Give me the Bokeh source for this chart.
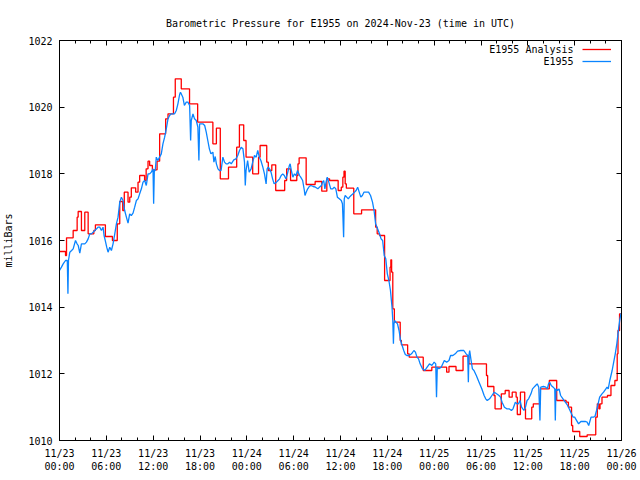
from bokeh.plotting import figure
from bokeh.models import Range1d, FixedTicker, LinearAxis, Legend, LegendItem, Label
from bokeh.embed import file_html
from bokeh.resources import INLINE

# ---- data (hours since 2024-11-23 00:00 UTC, pressure in mbar) ----
blue_hours = [0.0, 0.25, 0.47, 0.77, 1.0, 1.08, 1.15, 1.32, 1.55, 1.75, 2.05, 2.25, 2.4, 2.6, 2.81, 3.0, 3.24, 3.45,
              3.67, 3.88, 4.1, 4.31, 4.52, 4.75, 4.94, 5.15, 5.37, 5.58, 5.71, 5.88, 6.05, 6.22, 6.44, 6.65, 6.86,
              7.08, 7.29, 7.5, 7.72, 7.93, 8.14, 8.35, 8.57, 8.78, 8.99, 9.2, 9.42, 9.63, 9.85, 10.06, 10.27, 10.49,
              10.7, 10.91, 11.12, 11.34, 11.55, 11.76, 11.98, 12.06, 12.15, 12.27, 12.4, 12.6, 12.82, 13.04, 13.25,
              13.47, 13.68, 13.9, 14.1, 14.3, 14.5, 14.75, 14.96, 15.17, 15.39, 15.5, 15.8, 16.0, 16.24, 16.45,
              16.67, 16.8, 16.88, 17.1, 17.3, 17.52, 17.73, 17.86, 17.95, 18.15, 18.37, 18.6, 18.8, 19.0, 19.2,
              19.4, 19.65, 19.78, 19.95, 20.1, 20.3, 20.5, 20.7, 20.93, 21.14, 21.35, 21.57, 21.8, 22.0, 22.33,
              22.6, 22.84, 23.06, 23.27, 23.5, 23.7, 23.8, 23.9, 24.1, 24.3, 24.55, 24.8, 24.98, 25.2, 25.4, 25.6,
              25.8, 26.05, 26.26, 26.47, 26.6, 26.75, 26.9, 27.1, 27.3, 27.5, 27.8, 28.0, 28.2, 28.4, 28.6, 28.8,
              29.0, 29.2, 29.45, 29.55, 29.7, 29.9, 30.1, 30.3, 30.5, 30.75, 30.9, 31.15, 31.37, 31.45, 31.6, 31.8,
              32.0, 32.2, 32.5, 32.8, 33.1, 33.3, 33.55, 33.7, 33.85, 34.0, 34.15, 34.3, 34.5, 34.75, 35.0, 35.2,
              35.4, 35.6, 35.85, 36.1, 36.25, 36.32, 36.4, 36.48, 36.6, 36.8, 37.0, 37.15, 37.35, 37.6, 37.8, 38.0,
              38.2, 38.4, 38.6, 38.8, 39.0, 39.3, 39.6, 39.85, 40.1, 40.3, 40.5, 40.75, 41.0, 41.2, 41.4, 41.6,
              41.8, 42.0, 42.2, 42.4, 42.6, 42.7, 42.78, 42.85, 42.95, 43.1, 43.3, 43.5, 43.7, 43.9, 44.1, 44.3,
              44.5, 44.8, 45.1, 45.4, 45.6, 45.8, 46.0, 46.2, 46.5, 46.8, 47.1, 47.4, 47.7, 48.0, 48.2, 48.3, 48.4,
              48.6, 48.9, 49.3, 49.6, 49.9, 50.1, 50.4, 50.7, 51.0, 51.4, 51.8, 52.1, 52.3, 52.38, 52.45, 52.55,
              52.7, 52.9, 53.1, 53.4, 53.75, 54.1, 54.4, 54.6, 54.8, 55.1, 55.4, 55.7, 56.0, 56.3, 56.5, 56.7,
              57.0, 57.3, 57.6, 57.9, 58.1, 58.4, 58.6, 58.8, 59.0, 59.2, 59.5, 59.7, 59.9, 60.1, 60.4, 60.6, 60.8,
              61.0, 61.2, 61.4, 61.55, 61.65, 62.0, 62.3, 62.5, 62.65, 62.8, 63.0, 63.25, 63.45, 63.52, 63.6, 63.8,
              64.0, 64.2, 64.5, 64.8, 65.1, 65.4, 65.6, 65.8, 66.0, 66.2, 66.5, 66.8, 67.1, 67.4, 67.6, 67.8, 68.1,
              68.4, 68.6, 68.8, 69.0, 69.2, 69.5, 69.7, 70.0, 70.15, 70.3, 70.5, 70.65, 70.8, 71.0, 71.2, 71.4,
              71.55, 71.65, 71.8, 71.95]
blue_mbar = [1015.1, 1015.2, 1015.3, 1015.4, 1015.4, 1014.4, 1015.4, 1015.65, 1015.7, 1015.75, 1016.0, 1015.9,
             1015.85, 1015.62, 1015.9, 1015.9, 1015.9, 1015.95, 1016.05, 1016.2, 1016.2, 1016.25, 1016.3, 1016.35,
             1016.4, 1016.4, 1016.3, 1016.4, 1016.15, 1015.98, 1015.8, 1015.65, 1015.8, 1015.7, 1015.9, 1016.2,
             1016.5, 1016.7, 1017.15, 1017.3, 1017.2, 1016.9, 1016.7, 1016.52, 1016.8, 1016.75, 1016.82, 1017.0,
             1017.2, 1017.25, 1017.4, 1017.55, 1017.75, 1017.8, 1017.65, 1018.0, 1018.0, 1018.05, 1018.15, 1017.1,
             1018.1, 1018.1, 1018.5, 1018.4, 1018.5, 1018.6, 1018.9, 1019.1, 1019.35, 1019.65, 1019.75, 1019.8,
             1019.8, 1019.8, 1019.9, 1020.1, 1020.38, 1020.45, 1020.3, 1020.05, 1020.15, 1020.15, 1020.05, 1019.0,
             1019.6, 1019.8, 1019.65, 1019.6, 1019.4, 1018.4, 1019.5, 1019.5, 1019.5, 1019.45, 1019.25, 1019.0,
             1018.75, 1018.6, 1018.65, 1018.35, 1018.52, 1018.3, 1018.15, 1018.1, 1018.1, 1018.5, 1018.35, 1018.3,
             1018.3, 1018.35, 1018.3, 1018.42, 1018.45, 1018.55, 1018.7, 1018.8, 1018.75, 1018.35, 1017.65, 1018.1,
             1018.4, 1018.05, 1018.15, 1018.4, 1018.55, 1018.5, 1018.7, 1018.5, 1018.4, 1018.2, 1018.0, 1017.7,
             1018.15, 1018.2, 1018.15, 1018.05, 1017.85, 1017.7, 1017.75, 1017.8, 1017.85, 1017.95, 1018.0,
             1017.95, 1017.85, 1018.0, 1018.25, 1018.3, 1018.1, 1017.9, 1018.0, 1017.95, 1018.1, 1017.95, 1017.9,
             1017.8, 1017.5, 1017.35, 1017.45, 1017.55, 1017.62, 1017.65, 1017.62, 1017.6, 1017.55, 1017.6,
             1017.65, 1017.75, 1017.8, 1017.55, 1017.75, 1017.9, 1017.75, 1017.55, 1017.55, 1017.6, 1017.55,
             1017.3, 1017.25, 1017.2, 1017.1, 1016.65, 1016.1, 1017.25, 1017.35, 1017.3, 1017.25, 1017.3, 1017.35,
             1017.4, 1017.45, 1017.5, 1017.6, 1017.45, 1017.3, 1017.35, 1017.45, 1017.45, 1017.45, 1017.35,
             1017.15, 1016.9, 1016.5, 1016.35, 1016.2, 1016.05, 1016.0, 1015.55, 1015.45, 1015.0, 1014.8, 1014.5,
             1014.0, 1013.6, 1012.9, 1013.5, 1013.6, 1013.55, 1013.5, 1013.3, 1013.0, 1012.85, 1012.7, 1012.58,
             1012.55, 1012.55, 1012.6, 1012.7, 1012.65, 1012.5, 1012.45, 1012.3, 1012.15, 1012.1, 1012.2, 1012.3,
             1012.25, 1012.35, 1012.3, 1011.3, 1012.2, 1012.15, 1012.2, 1012.4, 1012.35, 1012.4, 1012.55, 1012.55,
             1012.6, 1012.68, 1012.7, 1012.7, 1012.6, 1012.55, 1011.75, 1012.55, 1012.7, 1012.45, 1012.15, 1012.1,
             1011.95, 1011.75, 1011.55, 1011.35, 1011.25, 1011.2, 1011.25, 1011.35, 1011.45, 1011.4, 1011.35,
             1011.3, 1011.15, 1011.0, 1010.95, 1010.95, 1010.9, 1010.95, 1011.15, 1011.1, 1011.1, 1011.2, 1011.0,
             1010.9, 1011.0, 1011.2, 1011.25, 1011.4, 1011.55, 1011.6, 1011.65, 1011.7, 1011.6, 1010.6, 1011.6,
             1011.62, 1011.6, 1011.55, 1011.7, 1011.75, 1011.65, 1011.6, 1011.55, 1010.6, 1011.55, 1011.5, 1011.55,
             1011.35, 1011.25, 1011.15, 1011.05, 1010.9, 1010.8, 1010.7, 1010.7, 1010.62, 1010.5, 1010.57,
             1010.57, 1010.57, 1010.55, 1010.45, 1010.7, 1010.7, 1010.72, 1010.9, 1011.1, 1011.3, 1011.4, 1011.45,
             1011.55, 1011.6, 1011.55, 1011.8, 1011.95, 1012.1, 1012.35, 1012.6, 1012.9, 1013.2, 1013.4, 1013.65,
             1013.82]

red_hours = [0.0, 0.77, 0.9, 1.75, 2.26, 2.39, 2.81, 3.24, 3.67, 4.4, 4.6, 5.88, 6.78, 7.4, 7.72, 8.1, 8.3, 8.78,
             9.0, 9.2, 9.76, 10.06, 10.27, 10.9, 11.1, 11.34, 11.55, 11.9, 12.5, 12.83, 13.6, 13.9, 14.6, 14.83,
             15.6, 16.66, 17.7, 19.65, 20.1, 20.6, 21.65, 22.7, 23.05, 23.6, 23.9, 24.75, 25.5, 25.7, 26.55,
             26.75, 27.2, 27.7, 28.85, 29.1, 29.6, 30.4, 30.55, 30.7, 31.6, 32.75, 33.6, 34.25, 34.6, 35.7, 36.1,
             36.3, 36.45, 36.6, 36.75, 37.7, 38.7, 40.5, 40.7, 41.0, 41.65, 42.35, 42.45, 42.55, 42.7, 42.9,
             43.65, 43.8, 44.6, 44.8, 46.6, 47.7, 49.6, 49.9, 50.8, 51.7, 52.45, 54.7, 54.85, 55.65, 55.8, 56.6,
             57.1, 57.6, 58.0, 58.5, 58.65, 59.05, 59.6, 59.7, 60.5, 60.7, 61.6, 62.75, 63.7, 64.9, 65.2, 65.6,
             65.75, 66.65, 67.6, 68.7, 68.9, 69.1, 69.25, 69.5, 70.2, 70.65, 71.15, 71.45, 71.55, 71.75, 72.0]
red_mbar = [1015.67, 1015.55, 1016.08, 1016.3, 1016.7, 1016.87, 1016.3, 1016.85, 1016.2, 1016.3, 1016.47, 1016.12,
            1016.0, 1016.5, 1017.17, 1016.9, 1017.45, 1017.15, 1017.3, 1017.58, 1017.45, 1017.75, 1017.95, 1017.8,
            1018.15, 1018.38, 1018.25, 1018.12, 1018.38, 1019.2, 1019.65, 1019.8, 1020.3, 1020.85, 1020.55,
            1020.1, 1019.55, 1018.9, 1019.37, 1017.85, 1018.2, 1018.8, 1019.47, 1019.0, 1018.5, 1018.0, 1018.5,
            1018.85, 1018.35, 1018.1, 1018.27, 1017.5, 1017.8, 1018.15, 1017.8, 1017.95, 1018.3, 1018.48, 1017.68,
            1017.77, 1017.48, 1017.85, 1017.8, 1017.5, 1017.6, 1017.9, 1018.08, 1017.7, 1017.57, 1016.8, 1016.92,
            1016.4, 1016.2, 1016.15, 1014.8, 1015.2, 1015.42, 1015.05, 1013.95, 1013.55, 1013.0, 1012.87, 1012.6,
            1012.5, 1012.1, 1012.2, 1012.05, 1012.22, 1012.1, 1012.53, 1012.3, 1011.95, 1011.62, 1011.35,
            1010.95, 1011.4, 1011.5, 1011.3, 1011.45, 1011.3, 1010.78, 1011.45, 1010.95, 1010.65, 1011.0, 1011.1,
            1011.55, 1011.8, 1011.2, 1011.15, 1011.0, 1010.45, 1010.27, 1010.12, 1010.17, 1010.7, 1011.1, 1010.95,
            1011.1, 1011.3, 1011.35, 1011.65, 1011.8, 1012.6, 1013.3, 1013.8, 1013.8]

x_tick_hours = [0, 6, 12, 18, 24, 30, 36, 42, 48, 54, 60, 66, 72]
x_tick_labels = ["11/23\n00:00", "11/23\n06:00", "11/23\n12:00", "11/23\n18:00",
                 "11/24\n00:00", "11/24\n06:00", "11/24\n12:00", "11/24\n18:00",
                 "11/25\n00:00", "11/25\n06:00", "11/25\n12:00", "11/25\n18:00",
                 "11/26\n00:00"]
y_ticks = [1010, 1012, 1014, 1016, 1018, 1020, 1022]
series_names = ["E1955 Analysis", "E1955"]

FONT = "DejaVu Sans Mono"
RED = "#ff0000"
BLUE = "#0a84ff"

p = figure(width=640, height=480, x_range=Range1d(0, 72), y_range=Range1d(1010, 1022),
           output_backend="svg", toolbar_location=None,
           min_border_left=58, min_border_right=19, min_border_top=40, min_border_bottom=40,
           title="Barometric Pressure for E1955 on 2024-Nov-23 (time in UTC)")
p.title.text_font = FONT
p.title.text_font_size = "10px"
p.title.text_font_style = "normal"
p.title.text_color = "black"
p.title.align = "center"
p.title.standoff = 23
p.outline_line_color = "black"
p.outline_line_width = 1
p.xgrid.visible = False
p.ygrid.visible = False
p.background_fill_color = "white"
p.border_fill_color = "white"

xt = FixedTicker(ticks=x_tick_hours, minor_ticks=list(range(0, 73, 2)))
yt = FixedTicker(ticks=y_ticks, minor_ticks=[])

for ax in p.xaxis:
    ax.ticker = xt
    ax.major_label_overrides = {h: s for h, s in zip(x_tick_hours, x_tick_labels)}
    ax.major_tick_in = 5
    ax.major_tick_out = 0
    ax.minor_tick_in = 3
    ax.minor_tick_out = 0
    ax.axis_line_color = "black"
    ax.major_tick_line_color = "black"
    ax.minor_tick_line_color = "black"
    ax.major_label_text_font = FONT
    ax.major_label_text_font_size = "10px"
    ax.major_label_standoff = 7
    ax.major_label_text_color = "black"

for ax in p.yaxis:
    ax.ticker = yt
    ax.major_tick_in = 5
    ax.major_tick_out = 0
    ax.minor_tick_in = 0
    ax.minor_tick_out = 0
    ax.axis_line_color = "black"
    ax.major_tick_line_color = "black"
    ax.major_label_text_font = FONT
    ax.major_label_text_font_size = "10px"
    ax.major_label_standoff = 7
    ax.major_label_text_color = "black"
    ax.axis_label = "milliBars"
    ax.axis_label_text_font = FONT
    ax.axis_label_text_font_size = "10px"
    ax.axis_label_text_font_style = "normal"
    ax.axis_label_text_color = "black"
    ax.axis_label_standoff = 11

top = LinearAxis(ticker=xt, major_tick_in=5, major_tick_out=0, minor_tick_in=3, minor_tick_out=0,
                 major_label_overrides={h: "" for h in x_tick_hours}, major_label_text_color=None,
                 major_label_standoff=0, axis_line_color="black",
                 major_tick_line_color="black", minor_tick_line_color="black")
right = LinearAxis(ticker=yt, major_tick_in=5, major_tick_out=0, minor_tick_in=0, minor_tick_out=0,
                   major_label_overrides={v: "" for v in y_ticks}, major_label_text_color=None,
                   major_label_standoff=0, axis_line_color="black", major_tick_line_color="black")
p.add_layout(top, "above")
p.add_layout(right, "right")

r_red = p.step(red_hours, red_mbar, mode="after", line_color=RED, line_width=1.3)
r_blue = p.line(blue_hours, blue_mbar, line_color=BLUE, line_width=1.3)

legend = Legend(items=[LegendItem(label=" ", renderers=[r_red]), LegendItem(label=" ", renderers=[r_blue])],
                location=(523, 373), orientation="vertical", glyph_width=29, glyph_height=12,
                label_width=0, label_standoff=0, label_height=12, spacing=0, padding=0, margin=0,
                border_line_alpha=0, background_fill_alpha=0, label_text_color=None)
p.add_layout(legend, "center")

for txt, yv in zip(series_names, [1021.72, 1021.38]):
    p.add_layout(Label(x=65.86, y=yv, text=txt, text_align="right", text_baseline="middle",
                       text_font=FONT, text_font_size="10px", text_color="black"))

open("out.html", "w").write(file_html(p, INLINE))
